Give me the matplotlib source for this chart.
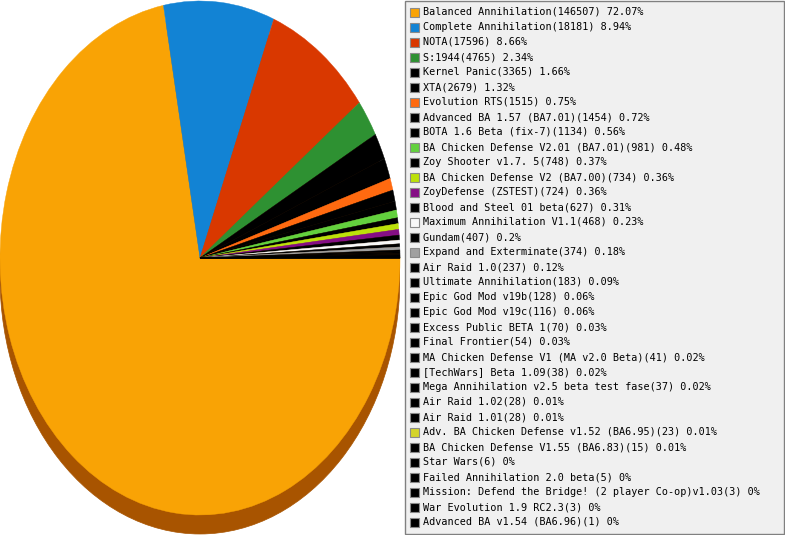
import matplotlib
matplotlib.use("Agg")
import matplotlib.pyplot as plt
from matplotlib.patches import Ellipse, Rectangle

labels = [
    "Balanced Annihilation", "Complete Annihilation", "NOTA", "S:1944",
    "Kernel Panic", "XTA", "Evolution RTS", "Advanced BA 1.57 (BA7.01)",
    "BOTA 1.6 Beta (fix-7)", "BA Chicken Defense V2.01 (BA7.01)",
    "Zoy Shooter v1.7. 5", "BA Chicken Defense V2 (BA7.00)",
    "ZoyDefense (ZSTEST)", "Blood and Steel 01 beta",
    "Maximum Annihilation V1.1", "Gundam", "Expand and Exterminate",
    "Air Raid 1.0", "Ultimate Annihilation", "Epic God Mod v19b",
    "Epic God Mod v19c", "Excess Public BETA 1", "Final Frontier",
    "MA Chicken Defense V1 (MA v2.0 Beta)", "[TechWars] Beta 1.09",
    "Mega Annihilation v2.5 beta test fase", "Air Raid 1.02", "Air Raid 1.01",
    "Adv. BA Chicken Defense v1.52 (BA6.95)", "BA Chicken Defense V1.55 (BA6.83)",
    "Star Wars", "Failed Annihilation 2.0 beta",
    "Mission: Defend the Bridge! (2 player Co-op)v1.03", "War Evolution 1.9 RC2.3",
    "Advanced BA v1.54 (BA6.96)",
]
counts = [146507, 18181, 17596, 4765, 3365, 2679, 1515, 1454, 1134, 981,
          748, 734, 724, 627, 468, 407, 374, 237, 183, 128, 116, 70, 54,
          41, 38, 37, 28, 28, 23, 15, 6, 5, 3, 3, 1]
percents = [72.07, 8.94, 8.66, 2.34, 1.66, 1.32, 0.75, 0.72, 0.56, 0.48,
            0.37, 0.36, 0.36, 0.31, 0.23, 0.2, 0.18, 0.12, 0.09, 0.06,
            0.06, 0.03, 0.03, 0.02, 0.02, 0.02, 0.01, 0.01, 0.01, 0.01,
            0, 0, 0, 0, 0]
colors = ["#F9A305", "#1283D4", "#D93800", "#2E9132", "#000000", "#000000",
          "#FF6A10", "#000000", "#000000", "#63D13E", "#000000", "#BCE10A",
          "#850F85", "#000000", "#F8F8F8", "#000000", "#A0A0A0", "#000000",
          "#000000", "#000000", "#000000", "#000000", "#000000", "#000000",
          "#000000", "#000000", "#000000", "#000000", "#D4D42A", "#000000",
          "#000000", "#000000", "#000000", "#000000", "#000000"]
side_color = "#A85400"

W, H = 785, 535
fig = plt.figure(figsize=(W / 100, H / 100), dpi=100)
fig.patch.set_facecolor("white")

# Pie axes (pixel geometry: x 0..400, centre y=258 from top, ry=257)
ax = fig.add_axes([0, 0, 400 / W, 1])
ry = 257.0
cy_top = 258.0
ax.set_xlim(-1, 1)
ax.set_ylim(-(H - cy_top) / ry, cy_top / ry)
ax.set_aspect("auto")
ax.axis("off")

depth = 19.0 / ry
ax.add_patch(Ellipse((0, -depth), 2, 2, facecolor=side_color,
                     edgecolor=side_color, lw=0.5, zorder=0))
wedges, _ = ax.pie(counts, colors=colors, startangle=0, counterclock=False,
                   radius=1, center=(0, 0), frame=False,
                   wedgeprops=dict(linewidth=0.3, antialiased=True))
for w, c in zip(wedges, colors):
    w.set_edgecolor(c)
    w.set_zorder(2)
ax.set_xlim(-1, 1)
ax.set_ylim(-(H - cy_top) / ry, cy_top / ry)
ax.set_aspect("auto")

# Legend axes in pixel coordinates
lax = fig.add_axes([0, 0, 1, 1])
lax.set_xlim(0, W)
lax.set_ylim(H, 0)
lax.axis("off")
lax.patch.set_alpha(0)
lax.add_patch(Rectangle((404.5, 0.5), 379.5, 533.5, facecolor="#F0F0F0",
                        edgecolor="#808080", lw=1))
for i, (lab, cnt, pct, col) in enumerate(zip(labels, counts, percents, colors)):
    y = 12 + 15 * i
    lax.add_patch(Rectangle((410, y - 4.5), 9, 9, facecolor=col,
                            edgecolor="#8A8A8A", lw=0.8))
    lax.text(423, y, f"{lab}({cnt}) {pct:g}%", fontsize=7.3,
             family="DejaVu Sans Mono", va="center", ha="left", color="black")

fig.savefig("out.png", dpi=100)
